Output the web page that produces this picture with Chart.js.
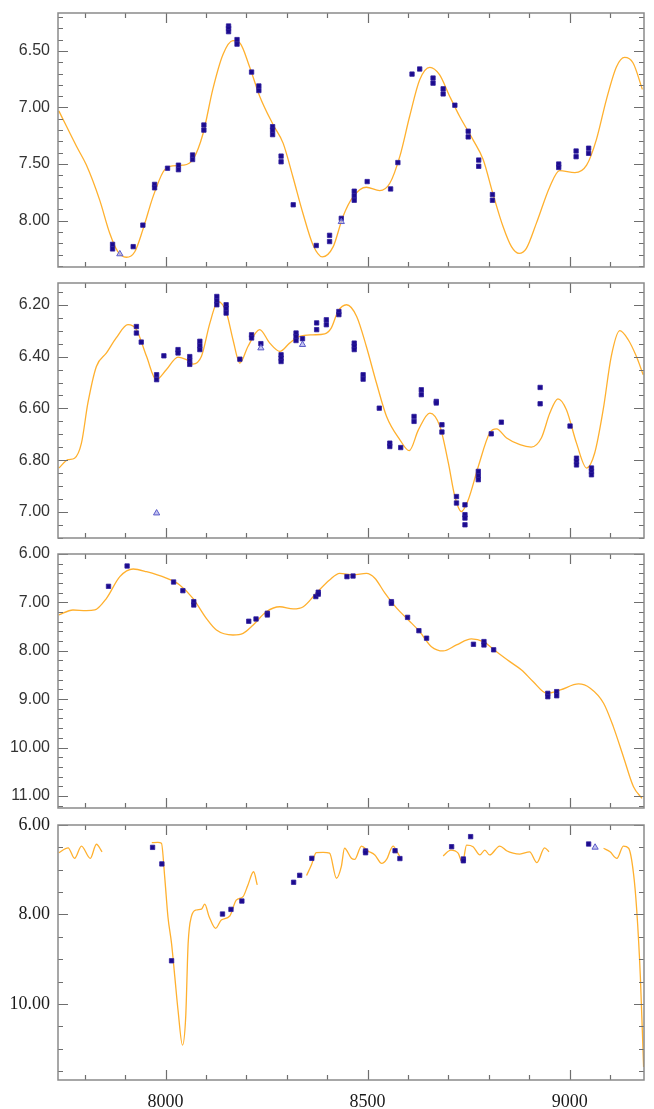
<!DOCTYPE html>
<html><head><meta charset="utf-8">
<script src="https://cdn.jsdelivr.net/npm/chart.js@4.4.1/dist/chart.umd.min.js"></script>
<style>
html,body{margin:0;padding:0;background:#fff;overflow:hidden;width:654px;height:1109px;position:relative}
canvas{position:absolute;left:0}
</style></head>
<body>
<canvas id="c1" style="top:0px;width:654px;height:280px" width="654" height="280"></canvas>
<canvas id="c2" style="top:270px;width:654px;height:280px" width="654" height="280"></canvas>
<canvas id="c3" style="top:540px;width:654px;height:280px" width="654" height="280"></canvas>
<canvas id="c4" style="top:811px;width:654px;height:298px" width="654" height="298"></canvas>
<script>
// ---------- shared x axis ----------
const xTickLabels = [8000, 8500, 9000];

// ---------- panel 1 ----------
const p1Ticks = [6.5, 7.0, 7.5, 8.0];
const p1CurveX = [7736, 7780, 7804, 7837, 7862, 7882, 7903, 7924, 7944, 7969, 7994, 8010, 8043, 8068, 8093, 8117, 8142, 8167, 8184, 8208, 8233, 8266, 8291, 8315, 8340, 8365, 8388, 8415, 8439, 8464, 8497, 8530, 8555, 8580, 8604, 8629, 8654, 8678, 8703, 8728, 8761, 8786, 8810, 8835, 8856, 8875, 8893, 8918, 8951, 8975, 9013, 9042, 9066, 9091, 9116, 9136, 9157, 9180];
const p1CurveY = [7.03, 7.345, 7.507, 7.817, 8.112, 8.275, 8.324, 8.275, 8.08, 7.79, 7.57, 7.52, 7.51, 7.46, 7.23, 6.84, 6.534, 6.41, 6.43, 6.64, 6.90, 7.15, 7.315, 7.61, 7.935, 8.215, 8.32, 8.23, 7.965, 7.79, 7.705, 7.735, 7.67, 7.43, 7.08, 6.755, 6.645, 6.71, 6.90, 7.08, 7.286, 7.46, 7.76, 8.05, 8.23, 8.29, 8.245, 8.02, 7.70, 7.558, 7.576, 7.51, 7.286, 6.93, 6.64, 6.558, 6.607, 6.84];
const p1MarkX = [7869, 7869, 7920, 7944, 7973, 7973, 8005, 8032, 8032, 8067, 8067, 8095, 8095, 8156, 8156, 8156, 8177, 8177, 8213, 8231, 8231, 8265, 8265, 8265, 8286, 8286, 8316, 8373, 8406, 8406, 8435, 8467, 8467, 8467, 8499, 8557, 8575, 8610, 8629, 8662, 8662, 8687, 8687, 8716, 8749, 8749, 8775, 8775, 8809, 8809, 8973, 8973, 9016, 9016, 9047, 9047];
const p1MarkY = [8.21, 8.25, 8.23, 8.04, 7.68, 7.71, 7.537, 7.51, 7.55, 7.42, 7.46, 7.155, 7.20, 6.28, 6.30, 6.33, 6.40, 6.44, 6.687, 6.81, 6.85, 7.17, 7.20, 7.24, 7.43, 7.48, 7.86, 8.22, 8.13, 8.185, 7.98, 7.74, 7.78, 7.82, 7.655, 7.72, 7.487, 6.705, 6.66, 6.74, 6.785, 6.835, 6.88, 6.98, 7.21, 7.26, 7.465, 7.52, 7.77, 7.82, 7.50, 7.53, 7.385, 7.435, 7.36, 7.405];
const p1TriX = [7887, 8435];
const p1TriY = [8.295, 8.01];

// ---------- panel 2 ----------
const p2Ticks = [6.2, 6.4, 6.6, 6.8, 7.0];
const p2CurveX = [7736, 7759, 7775, 7792, 7808, 7829, 7854, 7878, 7907, 7928, 7953, 7977, 8002, 8031, 8052, 8068, 8089, 8110, 8130, 8151, 8167, 8184, 8204, 8233, 8258, 8283, 8307, 8332, 8365, 8394, 8410, 8427, 8448, 8473, 8497, 8522, 8547, 8580, 8603, 8626, 8654, 8679, 8700, 8716, 8732, 8749, 8774, 8802, 8819, 8844, 8877, 8905, 8930, 8951, 8971, 8992, 9017, 9042, 9062, 9083, 9103, 9124, 9145, 9165, 9182];
const p2CurveY = [6.83, 6.798, 6.792, 6.734, 6.579, 6.438, 6.386, 6.328, 6.277, 6.296, 6.399, 6.489, 6.451, 6.402, 6.412, 6.429, 6.399, 6.27, 6.187, 6.232, 6.335, 6.425, 6.361, 6.296, 6.348, 6.380, 6.348, 6.322, 6.316, 6.312, 6.29, 6.225, 6.20, 6.245, 6.361, 6.502, 6.631, 6.721, 6.763, 6.682, 6.618, 6.669, 6.811, 6.94, 6.998, 6.953, 6.824, 6.695, 6.679, 6.714, 6.740, 6.749, 6.714, 6.618, 6.563, 6.605, 6.734, 6.830, 6.772, 6.605, 6.399, 6.30, 6.335, 6.399, 6.47];
const p2MarkX = [7928, 7928, 7940, 7978, 7978, 7996, 8031, 8031, 8060, 8060, 8060, 8085, 8085, 8085, 8127, 8127, 8127, 8150, 8150, 8150, 8184, 8213, 8213, 8236, 8286, 8286, 8286, 8323, 8323, 8323, 8339, 8374, 8374, 8398, 8398, 8429, 8429, 8467, 8467, 8467, 8489, 8489, 8529, 8555, 8555, 8582, 8615, 8615, 8633, 8633, 8670, 8670, 8684, 8684, 8720, 8720, 8741, 8741, 8741, 8741, 8774, 8774, 8774, 8806, 8831, 8927, 8927, 9001, 9017, 9017, 9017, 9054, 9054, 9054];
const p2MarkY = [6.284, 6.309, 6.344, 6.47, 6.489, 6.397, 6.373, 6.386, 6.40, 6.415, 6.43, 6.341, 6.358, 6.373, 6.168, 6.185, 6.20, 6.20, 6.215, 6.232, 6.41, 6.316, 6.328, 6.35, 6.393, 6.406, 6.419, 6.309, 6.323, 6.338, 6.331, 6.27, 6.296, 6.258, 6.277, 6.226, 6.238, 6.348, 6.36, 6.373, 6.47, 6.487, 6.599, 6.734, 6.747, 6.751, 6.631, 6.65, 6.528, 6.547, 6.573, 6.579, 6.663, 6.691, 6.94, 6.965, 6.972, 7.01, 7.023, 7.049, 6.843, 6.86, 6.875, 6.698, 6.653, 6.519, 6.582, 6.668, 6.792, 6.805, 6.818, 6.83, 6.843, 6.856];
const p2TriX = [7978, 8236, 8339];
const p2TriY = [7.004, 6.367, 6.354];

// ---------- panel 3 ----------
const p3Ticks = [6, 7, 8, 9, 10, 11];
const p3CurveX = [7736, 7771, 7804, 7825, 7854, 7887, 7920, 7953, 8002, 8035, 8068, 8101, 8126, 8167, 8192, 8217, 8250, 8283, 8316, 8341, 8373, 8406, 8431, 8464, 8497, 8518, 8543, 8572, 8601, 8629, 8658, 8687, 8720, 8757, 8786, 8819, 8852, 8881, 8910, 8944, 8977, 9022, 9051, 9084, 9108, 9133, 9158, 9179];
const p3CurveY = [7.26, 7.157, 7.17, 7.157, 6.916, 6.468, 6.31, 6.366, 6.50, 6.64, 6.916, 7.33, 7.57, 7.674, 7.64, 7.467, 7.19, 7.09, 7.136, 7.09, 6.81, 6.537, 6.40, 6.434, 6.40, 6.50, 6.81, 7.12, 7.364, 7.605, 7.915, 8.004, 7.88, 7.756, 7.81, 8.02, 8.225, 8.397, 8.64, 8.88, 8.81, 8.686, 8.775, 9.085, 9.568, 10.19, 10.81, 11.05];
const p3MarkX = [7859, 7905, 8020, 8043, 8070, 8070, 8206, 8224, 8252, 8252, 8372, 8378, 8378, 8449, 8464, 8559, 8559, 8599, 8627, 8646, 8762, 8788, 8788, 8812, 8946, 8946, 8968, 8968];
const p3MarkY = [6.668, 6.248, 6.579, 6.758, 6.985, 7.054, 7.39, 7.343, 7.225, 7.26, 6.88, 6.79, 6.83, 6.468, 6.455, 6.985, 7.02, 7.31, 7.585, 7.74, 7.866, 7.81, 7.88, 7.98, 8.88, 8.95, 8.845, 8.93];

// ---------- panel 4 (null = gap in the curve) ----------
const p4Ticks = [6, 8, 10];
const p4CurveX = [7736, 7759, 7775, 7792, 7814, 7829, 7843, 7900,
  7966, 7981, 7990, 7998, 8006, 8015, 8023, 8031, 8042, 8050, 8056, 8064, 8076, 8089, 8097, 8108, 8124, 8138, 8159, 8175, 8192, 8204, 8218, 8227, 8290,
  8349, 8361, 8373, 8390, 8406, 8423, 8435, 8443, 8460, 8468, 8485, 8501, 8518, 8535, 8547, 8563, 8575, 8580, 8630,
  8687, 8706, 8724, 8735, 8745, 8761, 8778, 8790, 8802, 8827, 8844, 8860, 8877, 8901, 8919, 8938, 8949, 9020,
  9084, 9100, 9117, 9133, 9146, 9158, 9166, 9175, 9183];
const p4CurveY = [6.62, 6.51, 6.745, 6.47, 6.745, 6.43, 6.60, null,
  6.395, 6.39, 6.41, 7.16, 8.05, 8.65, 9.39, 10.14, 10.92, 10.29, 8.65, 8.05, 7.90, 7.88, 7.77, 8.05, 8.31, 8.125, 8.035, 7.68, 7.60, 7.34, 7.045, 7.34, null,
  7.13, 6.895, 6.62, 6.61, 6.63, 7.19, 6.93, 6.52, 6.745, 6.77, 6.47, 6.58, 6.67, 6.86, 6.77, 6.47, 6.63, 6.71, null,
  6.69, 6.56, 6.63, 6.84, 6.45, 6.485, 6.67, 6.56, 6.67, 6.47, 6.575, 6.63, 6.65, 6.60, 6.84, 6.51, 6.60, null,
  6.52, 6.60, 6.745, 6.47, 6.52, 7.08, 7.90, 9.39, 11.41];
const p4MarkX = [7968, 7991, 8015, 8141, 8162, 8189, 8317, 8332, 8362, 8495, 8495, 8568, 8580, 8708, 8737, 8737, 8755, 9047];
const p4MarkY = [6.50, 6.87, 9.035, 7.99, 7.886, 7.70, 7.28, 7.125, 6.745, 6.58, 6.62, 6.575, 6.75, 6.485, 6.76, 6.80, 6.26, 6.425];
const p4TriX = [9063];
const p4TriY = [6.50];

// ---------- drawing ----------
const X_MIN = 7734, X_MAX = 9184;
const ORANGE = '#ffb02e';
const MARK = '#1c0b8e';
const TRI = '#5c5cc8';

function pts(xs, ys) { return xs.map((x, i) => ({ x: x, y: ys[i] })); }

const framePlugin = {
  id: 'frame',
  afterDraw(chart, args, opts) {
    const ctx = chart.ctx, a = chart.chartArea;
    const xs = chart.scales.x, ys = chart.scales.y;
    ctx.save();
    ctx.strokeStyle = '#6e6e6e';
    ctx.lineWidth = 1.2;
    for (let k = Math.ceil(X_MIN / 100); k * 100 <= X_MAX; k++) {
      const v = k * 100;
      const px = Math.round(xs.getPixelForValue(v)) + 0.5;
      const len = (v % 500 === 0) ? 10 : 5;
      ctx.beginPath();
      ctx.moveTo(px, a.top); ctx.lineTo(px, a.top + len);
      ctx.moveTo(px, a.bottom); ctx.lineTo(px, a.bottom - len);
      ctx.stroke();
    }
    const step = opts.minor;
    const n0 = Math.ceil(ys.min / step - 1e-6), n1 = Math.floor(ys.max / step + 1e-6);
    for (let k = n0; k <= n1; k++) {
      const v = k * step;
      const major = opts.major.some(m => Math.abs(m - v) < 1e-6);
      const len = major ? 10 : 5;
      const py = Math.round(ys.getPixelForValue(v)) + 0.5;
      ctx.beginPath();
      ctx.moveTo(a.left, py); ctx.lineTo(a.left + len, py);
      ctx.moveTo(a.right, py); ctx.lineTo(a.right - len, py);
      ctx.stroke();
    }
    ctx.strokeStyle = '#8a8a8a';
    ctx.lineWidth = 1.5;
    ctx.strokeRect(a.left, a.top, a.right - a.left, a.bottom - a.top);
    ctx.restore();
  }
};

function makePanel(id, p) {
  const datasets = [
    { type: 'line', data: pts(p.cx, p.cy), borderColor: ORANGE, borderWidth: 1.3,
      pointRadius: 0, fill: false, cubicInterpolationMode: 'monotone', spanGaps: false, order: 3 },
    { type: 'scatter', data: pts(p.mx, p.my), backgroundColor: MARK, borderColor: '#30209e',
      borderWidth: 0.8, pointStyle: 'rect', pointRadius: 3.1, order: 2 }
  ];
  if (p.tx) {
    datasets.push({ type: 'scatter', data: pts(p.tx, p.ty), backgroundColor: 'rgba(170,170,235,0.7)',
      borderColor: TRI, borderWidth: 1, pointStyle: 'triangle', pointRadius: 3.6, order: 1 });
  }
  const sans = { family: '"Liberation Sans", Arial, sans-serif', size: 16 };
  const serif = { family: '"Liberation Serif", "Times New Roman", serif', size: 18 };
  new Chart(document.getElementById(id), {
    type: 'scatter',
    data: { datasets },
    options: {
      responsive: false, animation: false, devicePixelRatio: 1,
      layout: { padding: { top: p.padTop, bottom: p.padBottom, left: 0, right: 10 } },
      plugins: { legend: { display: false }, tooltip: { enabled: false }, frame: { minor: p.minor, major: p.ticks } },
      scales: {
        x: {
          type: 'linear', min: X_MIN, max: X_MAX, display: p.showX,
          grid: { display: false, drawTicks: false }, border: { display: false },
          afterBuildTicks: s => { s.ticks = xTickLabels.map(v => ({ value: v })); },
          afterFit: s => { s.height = p.showX ? 29 : 0; s.paddingLeft = 0; s.paddingRight = 0; },
          ticks: { padding: 11, color: '#1a1a1a', font: serif, maxRotation: 0, callback: v => String(v) }
        },
        y: {
          type: 'linear', reverse: true, min: p.min, max: p.max,
          grid: { display: false, drawTicks: false }, border: { display: false },
          afterBuildTicks: s => { s.ticks = p.ticks.map(v => ({ value: v })); },
          afterFit: s => { s.width = 58; s.paddingTop = 0; s.paddingBottom = 0; },
          ticks: { padding: 8, color: p.serif ? '#1a1a1a' : '#333333', font: p.serif ? serif : sans,
                   callback: v => Number(v).toFixed(2) }
        }
      }
    },
    plugins: [framePlugin]
  });
}

makePanel('c1', { cx: p1CurveX, cy: p1CurveY, mx: p1MarkX, my: p1MarkY, tx: p1TriX, ty: p1TriY,
  ticks: p1Ticks, min: 6.165, max: 8.41, minor: 0.1, padTop: 13, padBottom: 13, showX: false });
makePanel('c2', { cx: p2CurveX, cy: p2CurveY, mx: p2MarkX, my: p2MarkY, tx: p2TriX, ty: p2TriY,
  ticks: p2Ticks, min: 6.116, max: 7.10, minor: 0.05, padTop: 13, padBottom: 12, showX: false });
makePanel('c3', { cx: p3CurveX, cy: p3CurveY, mx: p3MarkX, my: p3MarkY,
  ticks: p3Ticks, min: 6.0, max: 11.25, minor: 0.2, padTop: 14, padBottom: 12, showX: false });
makePanel('c4', { cx: p4CurveX, cy: p4CurveY, mx: p4MarkX, my: p4MarkY, tx: p4TriX, ty: p4TriY,
  ticks: p4Ticks, min: 6.0, max: 11.7, minor: 0.5, padTop: 14, padBottom: 0, showX: true, serif: true });
</script>
</body></html>
